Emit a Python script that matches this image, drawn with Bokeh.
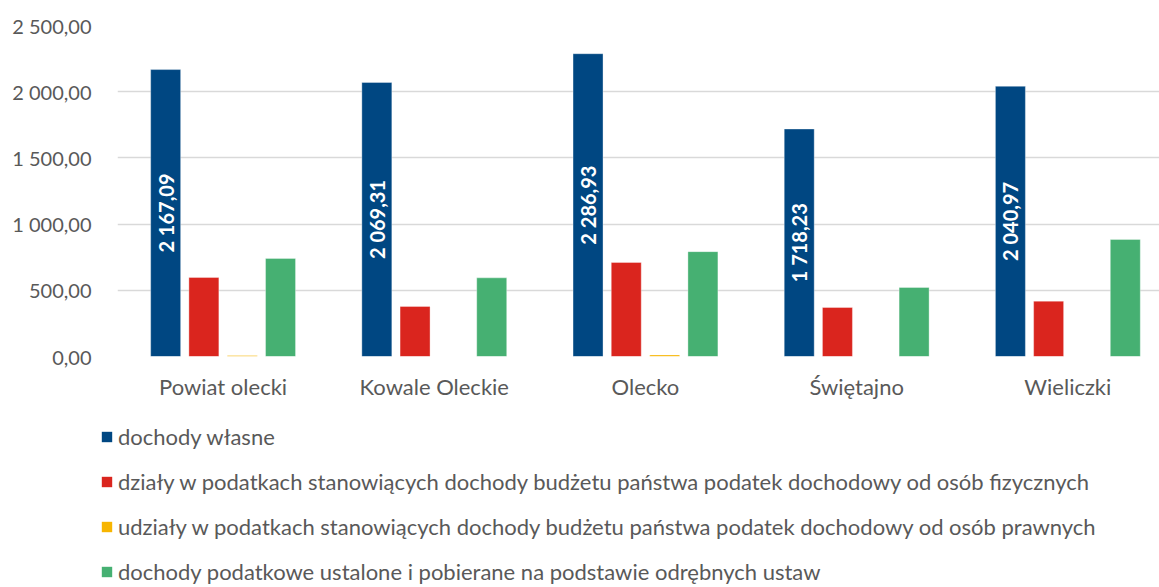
import numpy as np
from bokeh.plotting import figure
from bokeh.layouts import column, row
from bokeh.models import Range1d, FixedTicker, Legend, LegendItem, ColumnDataSource
from bokeh.core.properties import value
from bokeh.embed import file_html
from bokeh.resources import INLINE

categories = ["Powiat olecki", "Kowale Oleckie", "Olecko", "Świętajno", "Wieliczki"]
series_names = [
    "dochody własne",
    "działy w podatkach stanowiących dochody budżetu państwa podatek dochodowy od osób fizycznych",
    "udziały w podatkach stanowiących dochody budżetu państwa podatek dochodowy od osób prawnych",
    "dochody podatkowe ustalone i pobierane na podstawie odrębnych ustaw",
]
dochody_wlasne = [2167.09, 2069.31, 2286.93, 1718.23, 2040.97]
udzialy_pit = [597.0, 378.0, 710.0, 370.0, 418.0]
udzialy_cit = [8.0, 0.0, 12.0, 0.0, 0.0]
dochody_podatkowe = [741.0, 594.0, 792.0, 521.0, 884.0]
y_ticks = [0, 500, 1000, 1500, 2000, 2500]

colors = ["#004782", "#DA251E", "#F7B500", "#46B072"]
offsets = [-0.272, -0.091, 0.091, 0.272]
bar_w = 0.142

FONT = "Lato"
GREY = "#595959"
W = 1159


def pl_fmt(v):
    s = f"{v:,.2f}"
    return s.replace(",", " ").replace(".", ",")


p = figure(width=W, height=406, output_backend="svg", toolbar_location=None,
           x_range=Range1d(-0.5, 4.434), y_range=Range1d(0, 2500),
           min_border_left=117, min_border_right=0, min_border_top=25, min_border_bottom=50)
p.outline_line_color = None
p.background_fill_color = "white"

idx = np.arange(len(categories))
all_series = [dochody_wlasne, udzialy_pit, udzialy_cit, dochody_podatkowe]
sources = []
for vals, off, col in zip(all_series, offsets, colors):
    src = ColumnDataSource(dict(x=idx + off, top=vals))
    sources.append(src)
    p.vbar(x="x", top="top", bottom=0, width=bar_w, source=src,
           fill_color=col, line_color="white", line_alpha=0.35, line_width=1)

lab_src = ColumnDataSource(dict(x=idx + offsets[0], y=[v / 2 for v in dochody_wlasne],
                                t=[pl_fmt(v) for v in dochody_wlasne]))
p.text(x="x", y="y", text="t", source=lab_src, angle=np.pi / 2,
       text_align="center", text_baseline="middle", text_color="white",
       text_font=value(FONT), text_font_style="bold", text_font_size="20px")

p.xaxis.ticker = FixedTicker(ticks=list(idx))
p.xaxis.major_label_overrides = {int(i): c for i, c in zip(idx, categories)}
p.yaxis.ticker = FixedTicker(ticks=y_ticks)
p.yaxis.major_label_overrides = {t: pl_fmt(t) for t in y_ticks}
for ax in (p.xaxis[0], p.yaxis[0]):
    ax.axis_line_color = None
    ax.major_tick_line_color = None
    ax.minor_tick_line_color = None
    ax.major_label_text_font = FONT
    ax.major_label_text_color = GREY
p.xaxis.major_label_text_font_size = "22px"
p.yaxis.major_label_text_font_size = "20px"
p.xaxis.major_label_standoff = 10
p.yaxis.major_label_standoff = 20
p.xgrid.grid_line_color = None
p.ygrid.grid_line_color = "#D9D9D9"
p.ygrid.grid_line_width = 1.5

# legend panel: same series renderers, hidden, so only the legend entries show
pl = figure(width=W, height=181, output_backend="svg", toolbar_location=None,
            x_range=Range1d(-0.5, 4.434), y_range=Range1d(0, 2500),
            min_border_left=0, min_border_right=0, min_border_top=0, min_border_bottom=0)
pl.axis.visible = False
pl.grid.grid_line_color = None
pl.outline_line_color = None
legend_renderers = []
for src, col in zip(sources, colors):
    r = pl.vbar(x="x", top="top", bottom=0, width=bar_w, source=src,
                fill_color=col, line_color=None)
    r.visible = False
    legend_renderers.append(r)
legend = Legend(items=[LegendItem(label=n, renderers=[r]) for n, r in zip(series_names, legend_renderers)],
                location=(100, 2), orientation="vertical")
legend.glyph_width = 13
legend.glyph_height = 13
legend.label_standoff = 5
legend.label_height = 22
legend.spacing = 18
legend.padding = 0
legend.margin = 0
legend.border_line_color = None
legend.background_fill_alpha = 0
legend.inactive_fill_alpha = 0
legend.label_text_font = FONT
legend.label_text_font_size = "22px"
legend.label_text_color = GREY
pl.add_layout(legend)

layout = column(p, row(pl), spacing=0)
open("out.html", "w").write(file_html(layout, INLINE))
